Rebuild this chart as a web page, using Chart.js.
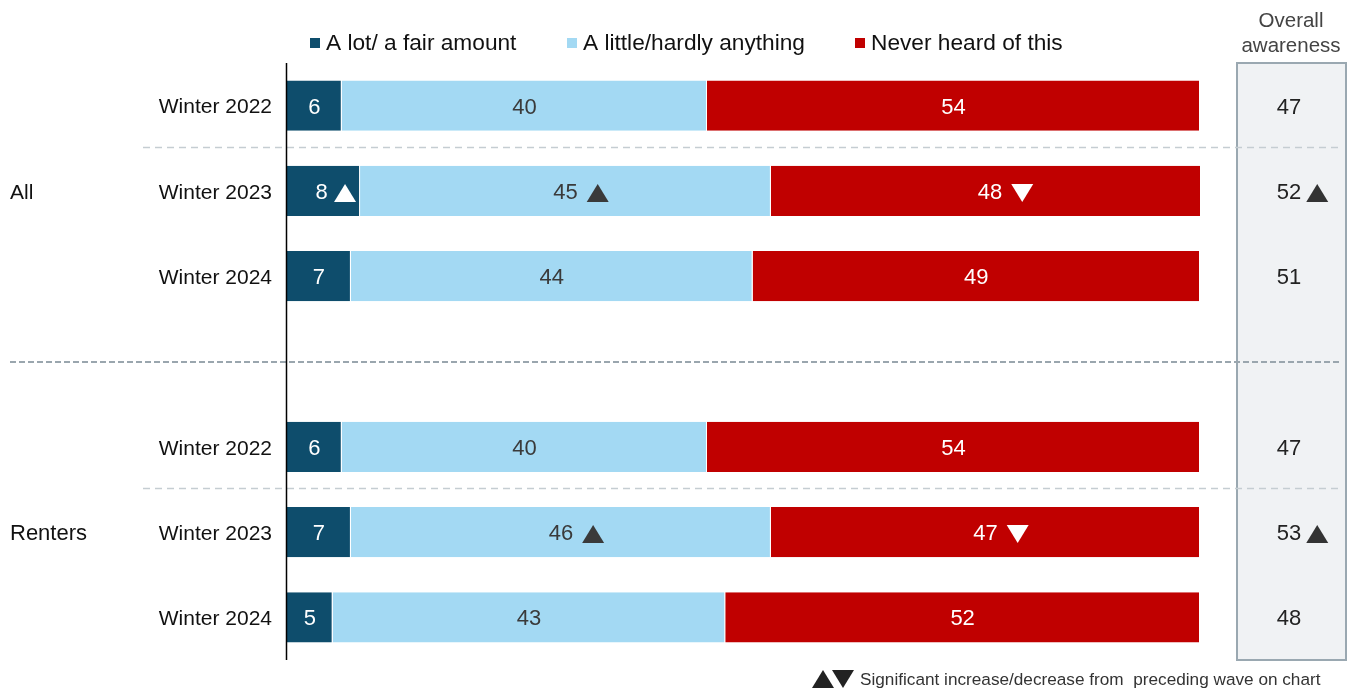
<!DOCTYPE html>
<html>
<head>
<meta charset="utf-8">
<script src="https://cdn.jsdelivr.net/npm/chart.js@4.4.1/dist/chart.umd.min.js"></script>
<style>
html,body{margin:0;padding:0;background:#fff;}
#wrap{position:relative;width:1351px;height:690px;}
</style>
</head>
<body>
<div id="wrap"><canvas id="c" width="1351" height="690"></canvas></div>
<script>
// ---- data ----
const categories = ['Winter 2022','Winter 2023','Winter 2024','','Winter 2022','Winter 2023','Winter 2024'];
const groups = [{label:'All', index:1},{label:'Renters', index:5}];
const seriesNames = ['A lot/ a fair amount','A little/hardly anything','Never heard of this'];
const aLot    = [6, 8, 7, null, 6, 7, 5];
const aLittle = [40, 45, 44, null, 40, 46, 43];
const never   = [54, 48, 49, null, 54, 47, 52];
const overall = [47, 52, 51, null, 47, 53, 48];
// significance: 1 = increase, -1 = decrease, 0 = none
const sigLot     = [0, 1, 0, 0, 0, 0, 0];
const sigLittle  = [0, 1, 0, 0, 0, 1, 0];
const sigNever   = [0, -1, 0, 0, 0, -1, 0];
const sigOverall = [0, 1, 0, 0, 0, 1, 0];

const colors = ['#0e4d6c','#a3d9f3','#c00000'];
const labelColors = ['#ffffff','#3a3a3a','#ffffff'];
const FONT = '"Liberation Sans", Arial, sans-serif';
const DY = 2;

function tri(ctx, cx, cy, up, color){
  const w = 22, h = 18;
  ctx.save();
  ctx.fillStyle = color;
  ctx.beginPath();
  if (up){
    ctx.moveTo(cx - w/2, cy + h/2);
    ctx.lineTo(cx + w/2, cy + h/2);
    ctx.lineTo(cx, cy - h/2);
  } else {
    ctx.moveTo(cx - w/2, cy - h/2);
    ctx.lineTo(cx + w/2, cy - h/2);
    ctx.lineTo(cx, cy + h/2);
  }
  ctx.closePath();
  ctx.fill();
  ctx.restore();
}

const decor = {
  id: 'decor',
  beforeDatasetsDraw(chart){
    const ctx = chart.ctx, y = chart.scales.y, area = chart.chartArea;
    ctx.save();
    ctx.fillStyle = '#f0f2f4';
    ctx.fillRect(1237, area.top, 109, area.bottom - area.top);
    ctx.strokeStyle = '#9aa8b1';
    ctx.lineWidth = 2;
    ctx.strokeRect(1237, area.top, 109, area.bottom - area.top);
    ctx.strokeStyle = '#c5cdd2';
    ctx.lineWidth = 1.5;
    ctx.setLineDash([7,5]);
    [0,4].forEach(i => {
      const yy = Math.round((y.getPixelForValue(i) + y.getPixelForValue(i+1))/2) - 0.5;
      ctx.beginPath(); ctx.moveTo(143, yy); ctx.lineTo(1342, yy); ctx.stroke();
    });
    ctx.strokeStyle = '#9aa6ae';
    ctx.lineWidth = 2;
    ctx.setLineDash([6,3]);
    const gy = Math.round(y.getPixelForValue(3));
    ctx.beginPath(); ctx.moveTo(10, gy); ctx.lineTo(1342, gy); ctx.stroke();
    ctx.restore();
  },
  afterDatasetsDraw(chart){
    const ctx = chart.ctx, y = chart.scales.y, area = chart.chartArea;
    ctx.save();
    ctx.strokeStyle = '#000';
    ctx.lineWidth = 1.5;
    ctx.beginPath(); ctx.moveTo(area.left - 0.5, area.top); ctx.lineTo(area.left - 0.5, area.bottom); ctx.stroke();

    ctx.textBaseline = 'middle';
    // category labels
    ctx.font = '21px ' + FONT;
    ctx.fillStyle = '#111';
    ctx.textAlign = 'right';
    categories.forEach((c, i) => { if (c) ctx.fillText(c, 272, y.getPixelForValue(i) + DY); });

    ctx.font = '22px ' + FONT;
    const sigs = [sigLot, sigLittle, sigNever];
    chart.data.datasets.forEach((ds, di) => {
      const meta = chart.getDatasetMeta(di);
      meta.data.forEach((bar, i) => {
        const v = ds.data[i];
        if (v == null) return;
        let cx = (bar.x + bar.base)/2;
        const cy = bar.y + DY;
        const txt = String(v);
        const tw = ctx.measureText(txt).width;
        const s = sigs[di][i];
        let tx = cx + tw/2 + 20;
        if (s && tx > bar.x - 15){ const d = tx - (bar.x - 15); tx -= d; cx -= Math.min(d, 2); }
        ctx.fillStyle = labelColors[di];
        ctx.textAlign = 'center';
        ctx.fillText(txt, cx, cy);
        if (s) tri(ctx, tx, cy, s > 0, labelColors[di]);
      });
    });
    overall.forEach((v, i) => {
      if (v == null) return;
      const cy = y.getPixelForValue(i) + DY;
      ctx.fillStyle = '#222';
      ctx.textAlign = 'center';
      ctx.fillText(String(v), 1289, cy);
      if (sigOverall[i]){
        const tw = ctx.measureText(String(v)).width;
        tri(ctx, 1289 + tw/2 + 16, cy, sigOverall[i] > 0, '#333');
      }
    });
    ctx.fillStyle = '#111';
    ctx.textAlign = 'left';
    groups.forEach(g => {
      ctx.font = (g.label === 'All' ? '21px ' : '22px ') + FONT;
      ctx.fillText(g.label, 10, y.getPixelForValue(g.index) + DY);
    });
    ctx.font = '20.5px ' + FONT;
    ctx.fillStyle = '#444';
    ctx.textAlign = 'center';
    ctx.fillText('Overall', 1291, 21);
    ctx.fillText('awareness', 1291, 46);
    ctx.font = '22.7px ' + FONT;
    ctx.textAlign = 'left';
    const lx = [310, 567, 855];
    seriesNames.forEach((n, i) => {
      ctx.fillStyle = colors[i];
      ctx.fillRect(lx[i], 38, 10, 10);
      ctx.fillStyle = '#111';
      ctx.fillText(n, lx[i] + 16, 44);
    });
    tri(ctx, 823, 679, true, '#222');
    tri(ctx, 843, 679, false, '#222');
    ctx.font = '17.2px ' + FONT;
    ctx.fillStyle = '#333';
    ctx.fillText('Significant increase/decrease from  preceding wave on chart', 860, 680);
    ctx.restore();
  }
};

new Chart(document.getElementById('c'), {
  type: 'bar',
  data: {
    labels: categories,
    datasets: [
      {label: seriesNames[0], data: aLot,    backgroundColor: colors[0]},
      {label: seriesNames[1], data: aLittle, backgroundColor: colors[1]},
      {label: seriesNames[2], data: never,   backgroundColor: colors[2]}
    ].map(d => Object.assign(d, {borderColor:'#ffffff', borderWidth:{left:0,right:1,top:0,bottom:0}, borderSkipped:false, barPercentage:0.59, categoryPercentage:1}))
  },
  options: {
    indexAxis: 'y',
    responsive: false,
    animation: false,
    layout: {padding: {left: 0, right: 151, top: 63, bottom: 30}},
    plugins: {legend: {display: false}, tooltip: {enabled: false}},
    scales: {
      x: {stacked: true, min: 0, max: 100, display: false},
      y: {
        stacked: true,
        grid: {display: false, drawTicks: false},
        border: {display: false},
        ticks: {display: false},
        afterFit(s){ s.width = 287; }
      }
    }
  },
  plugins: [decor]
});
</script>
</body>
</html>
